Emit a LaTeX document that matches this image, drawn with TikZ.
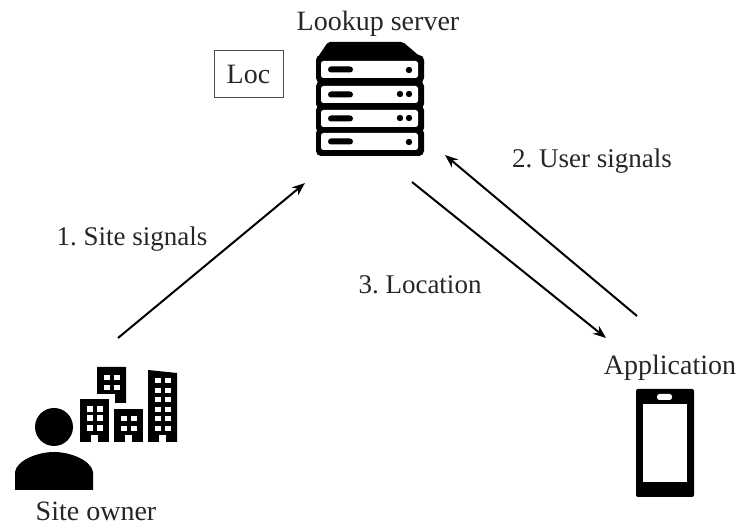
\documentclass[tikz,border=0pt]{standalone}
\usepackage{fontspec}
\setmainfont{Liberation Serif}
\usetikzlibrary{arrows.meta, positioning}
\frenchspacing

\begin{document}
\begin{tikzpicture}
  [x=1pt, y=-1pt,
   every node/.style = {inner sep=0pt, text=black!85, font=\fontsize{28}{32}\selectfont},
   steplabel/.style = {font=\fontsize{27}{32}\selectfont},
   signal/.style = {-{Stealth[length=13pt, width=10pt]}, line width=2pt},
   blob/.style = {fill=black, rounded corners=5pt},
   slot/.style = {fill=white, rounded corners=2.5pt},
   bar/.style = {fill=black, rounded corners=3pt},
   pane/.style = {fill=white}
  ]
  \useasboundingbox (0,0) rectangle (740,526);

  % server
  \fill[black, rounded corners=2pt] (316,66) -- (316,60) -- (328,42) -- (403,42) -- (424,60) -- (424,66) -- cycle;
  \foreach \top in {55,81,105,128} {
    \path[blob] (316,\top) rectangle (424,\top+28);
  }
  \foreach \top in {61,86,110,133} {
    \path[slot] (321,\top) rectangle (418,\top+17);
    \path[bar] (328,\top+5.5) rectangle (353,\top+11.5);
  }
  \foreach \x/\y in {409/70, 409/142, 400/94, 409/94, 400/118, 409/118} {
    \fill (\x,\y) circle (3.2pt);
  }
  \node (server) at (378,23.5) {Lookup server};
  \node (loc) [draw=black!70, line width=1pt, minimum width=69pt, minimum height=47pt] at (248.5,74.5) {Loc};

  % owner and buildings
  \fill (54,427) circle (19pt);
  \fill (15,490) -- (15,472) .. controls (17,460) and (38,452) .. (54,452)
    .. controls (70,452) and (91,460) .. (93,472) -- (93,490) -- cycle;
  \fill (97,367) -- (126,367) -- (126,403) -- (115,403) -- (115,394) -- (97,394) -- cycle;
  \fill (80,399) rectangle (109,442);
  \fill (114,409) rectangle (143,442);
  \fill (148,370) -- (177,373) -- (177,442) -- (148,442) -- cycle;
  \foreach \x in {104,114} \foreach \y in {375,385} {
    \path[pane] (\x,\y) rectangle (\x+6,\y+5);
  }
  \foreach \x in {87,97} \foreach \y in {406,415,425} {
    \path[pane] (\x,\y) rectangle (\x+6,\y+6);
  }
  \foreach \x in {121,131} \foreach \y in {416,426} {
    \path[pane] (\x,\y) rectangle (\x+6,\y+5);
  }
  \foreach \x in {155,165} \foreach \y in {378,388,397,407,416,426} {
    \path[pane] (\x,\y) rectangle (\x+6,\y+5);
  }
  \foreach \x in {91,125,159} {
    \path[pane] (\x,435) rectangle (\x+7,442);
  }
  \node (owner) at (96,511) {Site owner};

  % phone
  \fill[rounded corners=2pt] (636,389) rectangle (694,497);
  \path[pane] (643,404) rectangle (687,482);
  \path[pane, rounded corners=2.5pt] (657,394) rectangle (672,400);
  \node (app) at (670,367.5) {Application};

  % arrow ends
  \coordinate (ownerout) at (118,338);
  \coordinate (serverin) at (305,183);
  \coordinate (appout) at (637,316);
  \coordinate (serverback) at (445,155);
  \coordinate (serverout) at (412,182);
  \coordinate (appin) at (606,338);

  \draw[signal] (ownerout) -- (serverin);
  \draw[signal] (appout) -- (serverback);
  \draw[signal] (serverout) -- (appin);

  \node (sitesignals) [steplabel] at (132,239.5) {1. Site signals};
  \node (usersignals) [steplabel] at (592,161.5) {2. User signals};
  \node (location) [steplabel] at (420,285) {3. Location};
\end{tikzpicture}
\end{document}
